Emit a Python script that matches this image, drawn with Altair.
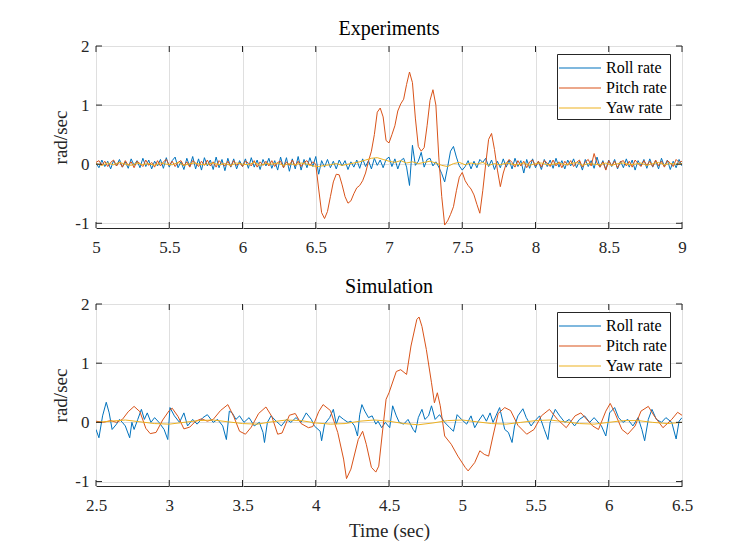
import altair as alt
import pandas as pd

# ---------------- Experiments (t = 5.00 .. 9.00, step 0.02) ----------------
roll_exp = [
    0.02, -0.06, 0.07, -0.04, 0.05, -0.08, 0.06, -0.03, 0.08, -0.05,
    0.04, -0.07, 0.09, -0.02, 0.06, -0.06, 0.10, -0.04, 0.07, -0.08,
    0.05, -0.03, 0.08, -0.07, 0.11, -0.05, 0.06, 0.12, -0.06, 0.04,
    -0.09, 0.10, -0.04, 0.13, -0.08, 0.09, -0.10, 0.11, -0.03, 0.07,
    -0.09, 0.12, -0.06, 0.08, -0.11, 0.10, -0.05, 0.09, -0.08, 0.06,
    -0.04, 0.09, -0.07, 0.11, -0.05, 0.07, -0.09, 0.08, -0.03, 0.10,
    -0.07, 0.06, -0.10, 0.12, -0.06, 0.11, -0.12, 0.09, -0.08, 0.13,
    -0.10, 0.08, -0.06, 0.11, -0.04, 0.13, -0.17, 0.06, -0.05, 0.08,
    -0.06, 0.05, -0.08, 0.07, -0.03, 0.06, -0.09, 0.04, -0.05, 0.07,
    -0.07, 0.09, -0.04, 0.06, -0.08, 0.10, -0.02, 0.07, -0.06, 0.08,
    0.12, -0.04, 0.09, -0.08, 0.06, 0.10, -0.05, -0.36, 0.32, -0.02,
    0.05, 0.20, -0.05, 0.08, 0.10, -0.03, 0.04, -0.05, -0.16, -0.30,
    -0.05, 0.22, 0.30, 0.12, -0.03, -0.10, -0.04, 0.06, -0.08, 0.05,
    -0.06, 0.08, 0.03, 0.10, -0.04, 0.07, -0.09, 0.05, -0.06, 0.09,
    -0.05, 0.07, -0.08, 0.10, -0.04, 0.06, -0.15, 0.08, -0.07, 0.09,
    -0.06, 0.05, -0.09, 0.08, -0.04, 0.07, -0.07, 0.10, -0.05, 0.06,
    -0.08, 0.07, -0.03, 0.09, -0.06, 0.05, -0.10, 0.08, -0.04, 0.06,
    -0.07, 0.12, -0.05, 0.06, -0.09, 0.07, -0.04, 0.08, -0.08, 0.05,
    -0.06, 0.09, -0.05, 0.07, -0.10, 0.06, -0.03, 0.08, -0.07, 0.09,
    -0.05, 0.06, -0.08, 0.10, -0.04, 0.07, -0.09, 0.05, -0.06, 0.08,
    -0.03,
]
pitch_exp = [
    0.03, 0.06, -0.02, 0.05, -0.04, 0.03, 0.07, -0.03, 0.04, -0.05,
    0.06, -0.02, 0.04, -0.06, 0.05, 0.01, -0.04, 0.07, -0.02, 0.03,
    -0.05, 0.06, -0.03, 0.04, 0.08, -0.02, 0.05, -0.04, 0.03, 0.06,
    -0.03, 0.04, -0.05, 0.06, 0.02, -0.04, 0.05, -0.02, 0.07, -0.03,
    0.04, -0.05, 0.06, 0.01, -0.03, 0.05, -0.04, 0.06, -0.02, 0.03,
    -0.04, 0.05, 0.02, -0.03, 0.06, -0.05, 0.04, -0.02, 0.05, -0.03,
    0.06, -0.04, 0.03, 0.05, -0.06, 0.04, -0.02, 0.07, -0.03, 0.05,
    -0.04, 0.03, 0.06, -0.02, 0.04, 0.00, -0.42, -0.82, -0.92, -0.80,
    -0.55, -0.30, -0.17, -0.18, -0.35, -0.55, -0.66, -0.62, -0.50, -0.40,
    -0.36, -0.28, -0.15, 0.05, 0.22, 0.50, 0.88, 0.95, 0.80, 0.40,
    0.36, 0.50, 0.65, 0.90, 1.02, 1.10, 1.35, 1.56, 1.38, 0.78,
    0.30, 0.22, 0.28, 0.65, 1.08, 1.26, 1.00, 0.12, -0.55, -1.03,
    -0.96, -0.85, -0.72, -0.45, -0.22, -0.14, -0.28, -0.36, -0.42, -0.52,
    -0.68, -0.83, -0.45, 0.00, 0.42, 0.52, 0.25, -0.10, -0.38, -0.15,
    0.01, 0.08, 0.03, -0.05, 0.06, -0.03, 0.05, -0.06, 0.04, 0.07,
    -0.03, 0.05, -0.05, 0.06, 0.02, -0.04, 0.07, -0.03, 0.04, -0.06,
    0.05, -0.02, 0.06, -0.04, 0.03, 0.07, -0.05, 0.04, 0.08, -0.03,
    0.18, 0.02, -0.05, 0.04, -0.10, 0.06, -0.03, 0.05, -0.06, 0.04,
    0.06, -0.03, 0.05, -0.05, 0.07, 0.01, -0.04, 0.06, -0.02, 0.05,
    -0.04, 0.07, -0.03, 0.05, -0.05, 0.06, 0.02, -0.04, 0.08, 0.03,
    0.05,
]
# yaw, step 0.04
yaw_exp = [
    0.01, -0.02, 0.02, -0.01, 0.03, 0.00, -0.02, 0.02, -0.01, 0.01,
    -0.02, 0.02, 0.00, -0.01, 0.03, -0.02, 0.01, 0.02, -0.01, 0.00,
    0.02, -0.01, 0.01, -0.02, 0.02, 0.00, -0.01, 0.03, -0.02, 0.01,
    0.00, 0.02, -0.02, 0.01, -0.01, 0.02, 0.00, -0.03, -0.04, -0.02,
    -0.01, 0.01, -0.02, 0.00, 0.02, 0.04, 0.07, 0.10, 0.11, 0.08,
    0.05, 0.03, 0.06, 0.02, 0.04, 0.01, 0.03, 0.05, 0.02, -0.02,
    -0.04, 0.01, 0.03, -0.01, 0.02, 0.00, 0.03, -0.02, 0.01, -0.01,
    0.02, 0.00, -0.01, 0.02, -0.02, 0.01, 0.02, -0.01, 0.00, 0.02,
    -0.01, 0.01, 0.03, -0.02, 0.01, 0.00, -0.01, 0.02, -0.02, 0.01,
    0.02, -0.01, 0.00, 0.02, -0.02, 0.01, 0.03, -0.01, 0.01, 0.00,
    0.01,
]

# ---------------- Simulation ----------------
roll_sim_t = [
    2.50, 2.52, 2.545, 2.57, 2.59, 2.61, 2.64, 2.66, 2.68, 2.70, 2.73, 2.745, 2.76, 2.785,
    2.81, 2.83, 2.85, 2.875, 2.90, 2.93, 2.965, 2.99, 3.005, 3.035, 3.07, 3.10, 3.125, 3.16,
    3.19, 3.23, 3.26, 3.30, 3.33, 3.365, 3.39, 3.41, 3.43, 3.455, 3.48, 3.51, 3.545, 3.58,
    3.615, 3.64, 3.65, 3.67, 3.695, 3.73, 3.765, 3.80, 3.83, 3.865, 3.90, 3.935, 3.97, 3.99,
    4.03, 4.04, 4.06, 4.095, 4.12, 4.14, 4.16, 4.19, 4.22, 4.24, 4.265, 4.285, 4.30, 4.315,
    4.335, 4.36, 4.385, 4.41, 4.425, 4.45, 4.475, 4.505, 4.525, 4.55, 4.57, 4.60, 4.63, 4.665,
    4.68, 4.70, 4.725, 4.745, 4.77, 4.79, 4.815, 4.845, 4.88, 4.915, 4.94, 4.965, 4.995, 5.03,
    5.06, 5.085, 5.11, 5.14, 5.165, 5.19, 5.21, 5.23, 5.255, 5.29, 5.315, 5.34, 5.357, 5.38,
    5.414, 5.437, 5.47, 5.494, 5.528, 5.56, 5.585, 5.60, 5.635, 5.665, 5.70, 5.73, 5.767, 5.80,
    5.835, 5.87, 5.90, 5.95, 5.98, 6.006, 6.04, 6.067, 6.097, 6.13, 6.165, 6.20, 6.226, 6.245,
    6.27, 6.295, 6.325, 6.36, 6.39, 6.43, 6.46, 6.48, 6.50,
]
roll_sim_v = [
    -0.12, -0.26, 0.11, 0.34, 0.16, -0.12, -0.03, 0.05, 0.00, -0.06, -0.26, 0.00, -0.12, 0.05,
    0.22, 0.05, 0.16, 0.00, 0.08, 0.00, -0.12, -0.29, 0.25, 0.11, 0.00, 0.16, -0.06, 0.05,
    -0.03, 0.08, 0.13, 0.00, 0.05, -0.06, -0.29, 0.19, 0.16, 0.05, 0.11, 0.00, 0.08, -0.06,
    0.00, -0.17, -0.34, 0.00, 0.11, 0.02, -0.06, 0.05, 0.00, 0.08, 0.00, 0.16, 0.05, -0.06,
    -0.15, -0.31, -0.03, 0.08, 0.22, -0.03, 0.11, 0.05, 0.00, 0.02, -0.06, -0.23, 0.13, 0.30,
    0.19, 0.08, 0.11, -0.03, 0.02, -0.09, 0.00, -0.09, 0.28, 0.11, 0.00, -0.03, 0.05, -0.12,
    -0.17, 0.08, 0.22, 0.05, 0.11, 0.28, 0.05, 0.13, 0.00, -0.09, -0.15, 0.13, 0.05, -0.03,
    0.11, -0.09, 0.02, 0.13, 0.02, 0.16, 0.00, 0.11, 0.25, -0.12, -0.17, -0.34, -0.06, 0.11,
    0.23, 0.08, -0.06, 0.02, 0.11, -0.12, -0.29, 0.00, 0.22, 0.11, 0.00, 0.05, -0.06, 0.05,
    0.11, 0.00, 0.08, -0.06, -0.23, 0.16, 0.25, 0.08, 0.00, 0.05, -0.06, 0.08, -0.12, -0.31,
    0.05, 0.22, 0.05, 0.00, 0.08, 0.00, -0.28, 0.02, 0.08,
]
pitch_sim_t = [
    2.50, 2.55, 2.60, 2.64, 2.68, 2.72, 2.76, 2.80, 2.84, 2.87, 2.91, 2.955, 3.00, 3.02,
    3.06, 3.10, 3.14, 3.18, 3.22, 3.26, 3.30, 3.35, 3.40, 3.44, 3.48, 3.52, 3.56, 3.61,
    3.66, 3.70, 3.74, 3.77, 3.82, 3.86, 3.90, 3.95, 3.98, 4.02, 4.05, 4.10, 4.15, 4.19,
    4.21, 4.24, 4.29, 4.32, 4.345, 4.38, 4.41, 4.43, 4.46, 4.48, 4.50, 4.55, 4.58, 4.62,
    4.65, 4.69, 4.705, 4.725, 4.755, 4.79, 4.81, 4.83, 4.85, 4.88, 4.925, 4.97, 5.02, 5.04,
    5.085, 5.12, 5.15, 5.18, 5.21, 5.245, 5.29, 5.33, 5.38, 5.44, 5.49, 5.54, 5.595, 5.65,
    5.71, 5.77, 5.81, 5.89, 5.93, 5.98, 6.01, 6.04, 6.09, 6.13, 6.18, 6.22, 6.27, 6.31,
    6.37, 6.43, 6.47, 6.50,
]
pitch_sim_v = [
    0.02, 0.00, 0.03, 0.00, 0.05, 0.18, 0.27, 0.18, -0.10, -0.19, -0.17, 0.04, 0.20, 0.24,
    0.10, -0.11, -0.08, 0.02, 0.06, 0.02, 0.05, 0.20, 0.30, 0.10, -0.15, -0.20, -0.08, 0.15,
    0.26, 0.10, -0.20, -0.18, 0.12, 0.15, -0.02, -0.09, -0.07, 0.18, 0.30, 0.20, -0.17, -0.62,
    -0.95, -0.79, -0.29, -0.15, -0.37, -0.76, -0.84, -0.74, -0.06, 0.39, 0.50, 0.86, 0.89, 0.81,
    1.29, 1.74, 1.78, 1.62, 1.23, 0.67, 0.33, 0.50, 0.28, -0.23, -0.37, -0.57, -0.76, -0.82,
    -0.68, -0.48, -0.54, -0.57, -0.23, 0.15, 0.25, 0.20, -0.05, -0.20, -0.12, 0.11, 0.22, 0.05,
    -0.09, 0.11, 0.16, -0.06, -0.12, 0.19, 0.32, 0.17, -0.12, -0.20, -0.06, 0.19, 0.27, 0.11,
    -0.09, 0.05, 0.17, 0.12,
]
# yaw, step 0.1 from 2.5
yaw_sim = [
    0.00, 0.02, 0.04, 0.01, -0.02, -0.03, 0.00, 0.03, 0.04, 0.01,
    -0.02, -0.03, 0.01, 0.04, 0.03, -0.01, -0.03, -0.02, 0.02, 0.04,
    0.02, -0.02, -0.04, -0.01, 0.03, 0.04, 0.01, -0.02, -0.03, 0.00,
    0.03, 0.04, 0.01, -0.02, -0.03, 0.00, 0.03, 0.03, 0.00, -0.02,
    0.00,
]

series_names = ["Roll rate", "Pitch rate", "Yaw rate"]
series_colors = ["#0072BD", "#D95319", "#EDB120"]
y_ticks = [-1, 0, 1, 2]
x_ticks_exp = [5, 5.5, 6, 6.5, 7, 7.5, 8, 8.5, 9]
x_ticks_sim = [2.5, 3, 3.5, 4, 4.5, 5, 5.5, 6, 6.5]

FONT = "Liberation Serif"
INK = "#262626"
W, H = 586, 182


def frame(ts, vs, name):
    return pd.DataFrame({"t": ts, "v": vs, "series": name})


exp_frames = [
    frame([round(5 + 0.02 * i, 2) for i in range(len(roll_exp))], roll_exp, "Roll rate"),
    frame([round(5 + 0.02 * i, 2) for i in range(len(pitch_exp))], pitch_exp, "Pitch rate"),
    frame([round(5 + 0.04 * i, 2) for i in range(len(yaw_exp))], yaw_exp, "Yaw rate"),
]
sim_frames = [
    frame(roll_sim_t, roll_sim_v, "Roll rate"),
    frame(pitch_sim_t, pitch_sim_v, "Pitch rate"),
    frame([round(2.5 + 0.1 * i, 2) for i in range(len(yaw_sim))], yaw_sim, "Yaw rate"),
]


def panel(frames, xdom, xticks, ydom, title, xtitle):
    xs = alt.Scale(domain=xdom, nice=False, zero=False, padding=0)
    ys = alt.Scale(domain=ydom, nice=False, zero=False, padding=0)
    xaxis = alt.Axis(values=xticks, grid=True, labelExpr="datum.value + ''",
                     labelFlush=False, title=xtitle)
    yaxis = alt.Axis(values=y_ticks, grid=True, labelExpr="datum.value + ''",
                     labelFlush=False, title="rad/sec")
    color = alt.Color("series:N",
                      scale=alt.Scale(domain=series_names, range=series_colors),
                      legend=alt.Legend(title=None, orient="none", legendX=461, legendY=8,
                                        symbolType="M-2.1,0H2.1", symbolSize=400,
                                        symbolStrokeWidth=1.1, symbolOffset=9,
                                        labelFont=FONT, labelFontSize=16,
                                        labelColor="black", labelOffset=15,
                                        strokeColor=INK, fillColor="white",
                                        padding=3, rowPadding=1))
    layers = []
    for f in frames:
        layers.append(alt.Chart(f).mark_line(strokeWidth=1, clip=True).encode(
            x=alt.X("t:Q", scale=xs, axis=xaxis),
            y=alt.Y("v:Q", scale=ys, axis=yaxis),
            color=color,
        ))
    xt = pd.DataFrame({"t": xticks})
    yt = pd.DataFrame({"v": y_ticks})
    tick = dict(color=INK, strokeWidth=1)
    layers += [
        alt.Chart(xt).mark_rule(**tick).encode(x=alt.X("t:Q", scale=xs, axis=xaxis),
                                                y=alt.value(H), y2=alt.value(H - 6)),
        alt.Chart(xt).mark_rule(**tick).encode(x=alt.X("t:Q", scale=xs, axis=xaxis),
                                                y=alt.value(0), y2=alt.value(6)),
        alt.Chart(yt).mark_rule(**tick).encode(y=alt.Y("v:Q", scale=ys, axis=yaxis),
                                                x=alt.value(0), x2=alt.value(6)),
        alt.Chart(yt).mark_rule(**tick).encode(y=alt.Y("v:Q", scale=ys, axis=yaxis),
                                                x=alt.value(W), x2=alt.value(W - 6)),
    ]
    return alt.layer(*layers).properties(
        width=W, height=H,
        title=alt.TitleParams(title, font=FONT, fontSize=20, fontWeight="normal",
                              color="black", anchor="middle", offset=-2),
    )


top = panel(exp_frames, [5, 9], x_ticks_exp, [-1.08, 2], "Experiments", None)
bottom = panel(sim_frames, [2.5, 6.5], x_ticks_sim, [-1.075, 2], "Simulation", "Time (sec)")

chart = alt.vconcat(top, bottom, spacing=20).resolve_scale(
    color="independent", x="independent", y="independent"
).resolve_legend(color="independent").properties(
    padding={"left": 43, "top": 10, "right": 5, "bottom": 5},
    background="white",
).configure_view(stroke=INK, strokeWidth=1).configure_axis(
    labelFont=FONT, labelFontSize=17, labelColor=INK, titleFont=FONT, titleFontSize=19,
    titleFontWeight="normal", titleColor=INK, tickSize=0, domain=False,
    gridColor="#dfdfdf", gridWidth=1,
).configure_axisX(labelPadding=11, titlePadding=8).configure_axisY(labelPadding=7, titlePadding=4)

chart.save("out.html", embed_options={"renderer": "svg", "actions": False})
